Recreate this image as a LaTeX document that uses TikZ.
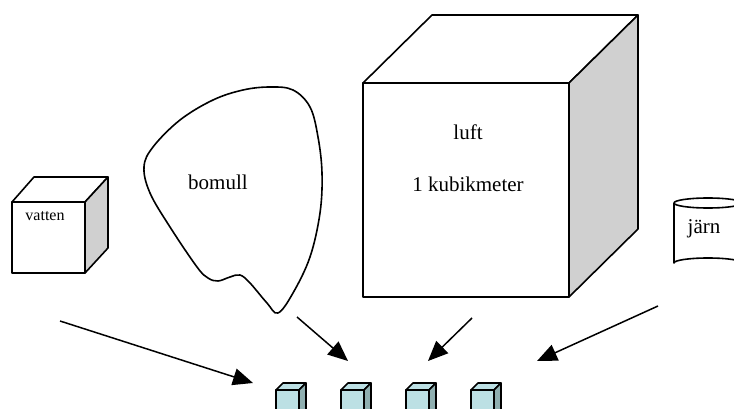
\documentclass[tikz,border=0pt]{standalone}
\usepackage{fontspec}
\setmainfont{Liberation Serif}
\usetikzlibrary{arrows.meta}

\definecolor{sidegray}{HTML}{D0D0D0}
\definecolor{bitfront}{HTML}{BCE0E4}
\definecolor{bitside}{HTML}{8FAFB0}

\begin{document}
\begin{tikzpicture}[x=1pt, y=-1pt, line join=round,
    every node/.style={font=\fontsize{21}{24}\selectfont},
    kant/.style={draw=black, line width=1.6pt},
    pil/.style={line width=1.5pt, -{Triangle[length=20pt, width=17pt]}}]

    % --- Frame ---
    \useasboundingbox (0,0) rectangle (734,409);
    \clip (0,0) rectangle (734,409);

    % --- Big cube: luft ---
    \coordinate (L1) at (363,83);
    \coordinate (L2) at (569,83);
    \coordinate (L3) at (569,297);
    \coordinate (L4) at (363,297);
    \filldraw[kant, fill=white] (L1) -- (432,15) -- (638,15) -- (L2) -- cycle;
    \filldraw[kant, fill=sidegray] (L2) -- (638,15) -- (638,229) -- (L3) -- cycle;
    \filldraw[kant, fill=white] (L1) -- (L2) -- (L3) -- (L4) -- cycle;

    % --- Small cube: vatten ---
    \coordinate (V1) at (12,202);
    \coordinate (V2) at (85,202);
    \coordinate (V3) at (85,273);
    \coordinate (V4) at (12,273);
    \filldraw[kant, fill=white] (V1) -- (34,177) -- (108,177) -- (V2) -- cycle;
    \filldraw[kant, fill=sidegray] (V2) -- (108,177) -- (108,248) -- (V3) -- cycle;
    \filldraw[kant, fill=white] (V1) -- (V2) -- (V3) -- (V4) -- cycle;

    % --- Blob: bomull ---
    \draw[kant] plot[smooth cycle, tension=0.6] coordinates {
        (144,167) (153,147) (180,120) (213,100) (243,90) (270,87) (293,90)
        (310,107) (318,137) (322,173) (320,213) (310,257) (293,293)
        (278,313) (267,303) (250,283) (240,275) (230,277) (218,281)
        (208,278) (197,267) (170,227) (150,193)};

    % --- Cylinder: jarn ---
    \filldraw[kant, fill=white] (674,203) -- (674,263) arc (180:360:34 and 5)
        -- (742,203);
    \draw[kant] (708,203) ellipse (34 and 5);

    % --- Labels ---
    \node (vatten) at (45,216) {\fontsize{16}{18}\selectfont vatten};
    \node (bomull) at (218,182) {bomull};
    \node (luft) at (468,132) {luft};
    \node (kubik) at (468,184) {1 kubikmeter};
    \node (jarn) at (704,229) {järn};

    % --- Four small blocks ---
    \foreach \i/\x in {1/276, 2/341, 3/406, 4/471} {
        \filldraw[kant, fill=bitfront] (\x,390) -- (\x+7,383) -- (\x+30,383) -- (\x+23,390) -- cycle;
        \filldraw[kant, fill=bitside] (\x+23,390) -- (\x+30,383) -- (\x+30,410) -- (\x+23,417) -- cycle;
        \filldraw[kant, fill=bitfront] (\x,390) rectangle (\x+23,417);
    }

    % --- Arrows ---
    \coordinate (vatten-ut) at (60,321);
    \coordinate (bomull-ut) at (297,317);
    \coordinate (luft-ut) at (472,318);
    \coordinate (jarn-ut) at (658,306);
    \coordinate (bit1) at (253,383);
    \coordinate (bit2) at (348,361);
    \coordinate (bit3) at (428,361);
    \coordinate (bit4) at (537,361);
    \draw[pil] (vatten-ut) -- (bit1);
    \draw[pil] (bomull-ut) -- (bit2);
    \draw[pil] (luft-ut) -- (bit3);
    \draw[pil] (jarn-ut) -- (bit4);

\end{tikzpicture}
\end{document}
